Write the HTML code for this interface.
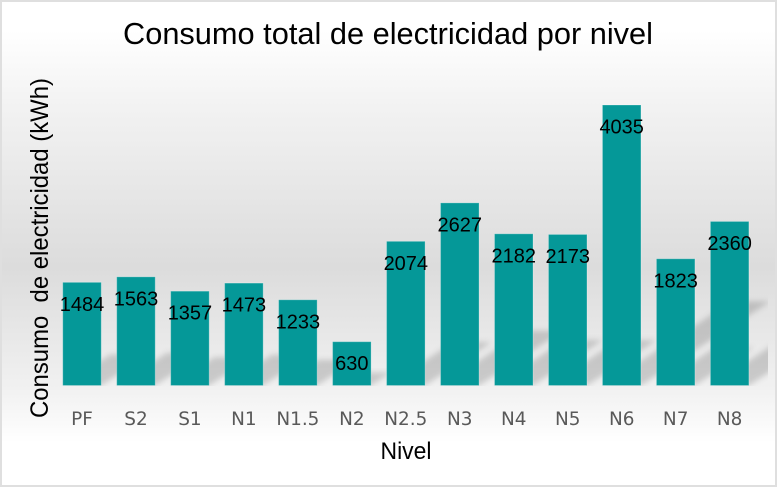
<!DOCTYPE html>
<html lang="es">
<head>
<meta charset="utf-8">
<title>Consumo total de electricidad por nivel</title>
<style>
html,body{margin:0;padding:0;background:#fff;width:780px;height:488px;overflow:hidden}
svg{display:block}
text{font-family:"Liberation Sans","DejaVu Sans",sans-serif}
</style>
</head>
<body>
<svg id="chart" width="780" height="488" viewBox="0 0 780 488" xmlns="http://www.w3.org/2000/svg">
<defs>
<linearGradient id="bg" x1="0" y1="0" x2="0" y2="1">
<stop offset="0" stop-color="#ffffff"/>
<stop offset="0.06" stop-color="#ffffff"/>
<stop offset="0.22" stop-color="#f2f2f2"/>
<stop offset="0.55" stop-color="#dcdcdc"/>
<stop offset="0.80" stop-color="#f1f1f1"/>
<stop offset="0.91" stop-color="#ffffff"/>
<stop offset="1" stop-color="#ffffff"/>
</linearGradient>
<filter id="blur" x="-30%" y="-30%" width="160%" height="160%"><feGaussianBlur stdDeviation="3"/></filter>
<clipPath id="shadow-clip"><rect x="40" y="60" width="728" height="326"/></clipPath>
</defs>
<rect x="1" y="1" width="775" height="485" fill="url(#bg)" stroke="#dfdfdf" stroke-width="2"/>
<g id="shadows" clip-path="url(#shadow-clip)"></g>
<g id="bars"></g>
<g id="ticks"></g>
<g id="labels"></g>
<text x="388" y="44" font-size="31" text-anchor="middle" fill="#000" textLength="530" lengthAdjust="spacingAndGlyphs">Consumo total de electricidad por nivel</text>
<text transform="translate(48,248) rotate(-90)" font-size="25" text-anchor="middle" fill="#000" textLength="340" lengthAdjust="spacingAndGlyphs" xml:space="preserve">Consumo  de electricidad (kWh)</text>
<text x="406" y="459" font-size="24" text-anchor="middle" fill="#000" textLength="51" lengthAdjust="spacingAndGlyphs">Nivel</text>
</svg>
<script>
const categories = ["PF","S2","S1","N1","N1.5","N2","N2.5","N3","N4","N5","N6","N7","N8"];
const consumption = [1484,1563,1357,1473,1233,630,2074,2627,2182,2173,4035,1823,2360];

const NS = "http://www.w3.org/2000/svg";
const baseY = 385.5;
const pxPerUnit = 280.5 / 4035;
const firstCenter = 82;
const step = 53.97;
const barWidth = 38.5;
const xScale = function (i) { return firstCenter + step * i; };
const yScale = function (v) { return baseY - v * pxPerUnit; };
const shadows = document.getElementById("shadows");
const bars = document.getElementById("bars");
const ticks = document.getElementById("ticks");
const labels = document.getElementById("labels");

categories.forEach(function (cat, i) {
  const v = consumption[i];
  const cx = xScale(i);
  const x0 = cx - barWidth / 2;
  const x1 = cx + barWidth / 2;
  const top = yScale(v);
  const h = baseY - top;
  const sh = h * 0.3;
  const sx = sh / 0.65;

  const shadow = document.createElementNS(NS, "polygon");
  shadow.setAttribute("points", x0 + "," + baseY + " " + x1 + "," + baseY + " " + (x1 + sx) + "," + (baseY - sh) + " " + (x0 + sx) + "," + (baseY - sh));
  shadow.setAttribute("fill", "#000");
  shadow.setAttribute("fill-opacity", "0.16");
  shadow.setAttribute("filter", "url(#blur)");
  
  
  shadows.appendChild(shadow);

  const bar = document.createElementNS(NS, "rect");
  bar.setAttribute("x", x0);
  bar.setAttribute("y", top);
  bar.setAttribute("width", barWidth);
  bar.setAttribute("height", h);
  bar.setAttribute("fill", "#059898");
  bar.setAttribute("stroke", "#ffffff");
  bar.setAttribute("stroke-opacity", "0.25");
  bar.setAttribute("stroke-width", "1");
  
  
  bars.appendChild(bar);

  const tick = document.createElementNS(NS, "text");
  tick.setAttribute("x", cx);
  tick.setAttribute("y", 425);
  tick.setAttribute("font-size", "19");
  tick.setAttribute("fill", "#595959");
  tick.setAttribute("text-anchor", "middle");
  tick.setAttribute("style", 'font-family:"DejaVu Sans","Liberation Sans",sans-serif');
  tick.textContent = cat;
  
  
  ticks.appendChild(tick);
  tick.setAttribute("textLength", tick.getComputedTextLength() * 0.97);
  tick.setAttribute("lengthAdjust", "spacingAndGlyphs");

  const label = document.createElementNS(NS, "text");
  label.setAttribute("x", cx);
  label.setAttribute("y", top + 28.5);
  label.setAttribute("font-size", "20");
  label.setAttribute("fill", "#000");
  label.setAttribute("text-anchor", "middle");
  label.textContent = v;
  
  
  labels.appendChild(label);
});
</script>
</body>
</html>
